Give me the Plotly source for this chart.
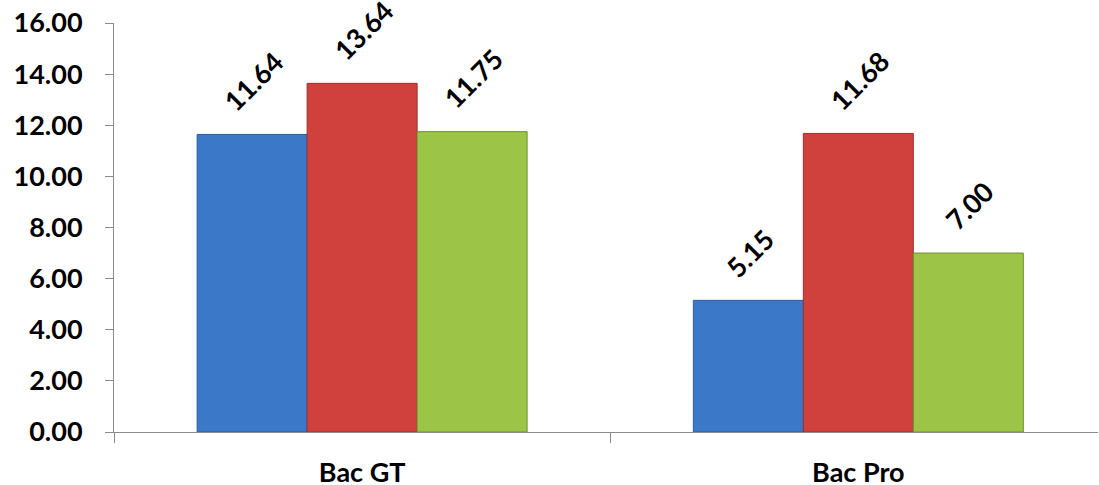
import plotly.graph_objects as go

categories = ["Bac GT", "Bac Pro"]
series_names = ["Série 1", "Série 2", "Série 3"]
values_blue = [11.64, 5.15]
values_red = [13.64, 11.68]
values_green = [11.75, 7.00]
colors = ["#3C78C8", "#D0403D", "#9CC447"]
line_colors = ["#2E5E9E", "#9E2E2B", "#6E8F2E"]
ytick_vals = [0, 2, 4, 6, 8, 10, 12, 14, 16]

FONT = "Lato, 'Open Sans', sans-serif"

W, H = 1099, 485
ML, MR, MT, MB = 114, 1, 23, 53
XRANGE = [-0.5, 1.483]
BARGAP = 0.335

fig = go.Figure()
all_series = [values_blue, values_red, values_green]
for name, vals, c, lc in zip(series_names, all_series, colors, line_colors):
    fig.add_trace(go.Bar(
        x=categories, y=vals, name=name,
        marker=dict(color=c, line=dict(color=lc, width=1)),
        hoverinfo="x+y",
    ))

# data labels as rotated annotations above each bar
px_per_cat = (W - ML - MR) / (XRANGE[1] - XRANGE[0])
bar_px = px_per_cat * (1 - BARGAP) / len(all_series)
for i, vals in enumerate(all_series):
    for cat, v in zip(categories, vals):
        fig.add_annotation(
            x=cat, y=v, xref="x", yref="y",
            text=f"<b>{v:.2f}</b>", showarrow=False, textangle=-45,
            xanchor="center", yanchor="bottom",
            xshift=(i - 1) * bar_px + 1, yshift=14,
            font=dict(family=FONT, size=27, color="#000000"),
        )

fig.update_layout(
    width=W, height=H,
    margin=dict(l=ML, r=MR, t=MT, b=MB),
    paper_bgcolor="white", plot_bgcolor="white",
    barmode="group", bargap=BARGAP, bargroupgap=0,
    showlegend=False,
    font=dict(family=FONT, color="#000000"),
)
fig.update_yaxes(
    range=[0, 16], tickvals=ytick_vals,
    ticktext=[f"{v:.2f}" for v in ytick_vals],
    showgrid=False, zeroline=False, automargin=False,
    showline=True, linecolor="#8C8C8C", linewidth=1,
    ticks="outside", ticklen=8, tickcolor="#8C8C8C",
    tickfont=dict(family=FONT, size=27, color="#000000", weight="bold"),
    ticklabelstandoff=17,
)
fig.update_xaxes(
    range=XRANGE, automargin=False,
    showgrid=False, zeroline=False,
    showline=True, linecolor="#8C8C8C", linewidth=1,
    ticks="outside", ticklen=10, tickcolor="#8C8C8C", tickson="boundaries",
    tickfont=dict(family=FONT, size=27, color="#000000", weight="bold"),
    ticklabelstandoff=17,
)

fig.write_html("out.html", config={"displayModeBar": False},
               post_script="document.body.style.margin='0';")
